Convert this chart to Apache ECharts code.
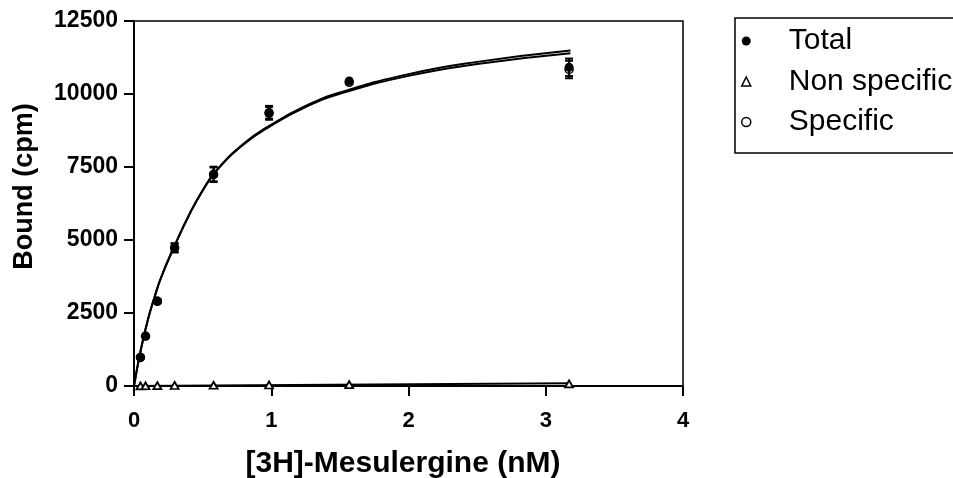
<!DOCTYPE html>
<html>
<head>
<meta charset="utf-8">
<script src="https://cdn.jsdelivr.net/npm/echarts@6/dist/echarts.min.js"></script>
<style>
html,body{margin:0;padding:0;background:#fff;}
#chart{width:953px;height:478px;}
</style>
</head>
<body>
<div id="chart"></div>
<script>
// Concentrations (nM)
var concX = [0.047, 0.084, 0.17, 0.296, 0.58, 0.984, 1.568, 3.17];
// Total binding (cpm) and SEM
var totalY = [983, 1712, 2911, 4740, 7260, 9373, 10445, 10914];
var totalErr = [0, 0, 60, 150, 250, 220, 0, 300];
// Non specific binding (cpm)
var nsY = [5, 8, 12, 18, 25, 35, 45, 75];
// Specific binding (cpm)
var specY = [978, 1704, 2899, 4722, 7235, 9338, 10400, 10839];
var specErr = [0, 0, 60, 150, 250, 220, 0, 300];
// Fitted curves
var curveX = [0, 0.05, 0.1, 0.15, 0.2, 0.3, 0.4, 0.5, 0.6, 0.8, 1.0, 1.25, 1.5, 2.0, 2.5, 3.18];
var totalCurveY = [0, 1250, 2250, 3050, 3750, 4850, 5850, 6700, 7380, 8300, 8950, 9590, 10050, 10680, 11100, 11490];
var specCurveY = [0, 1248, 2247, 3045, 3744, 4841, 5838, 6685, 7362, 8276, 8920, 9553, 10005, 10620, 11025, 11395];
var nsCurveX = [0, 3.18];
var nsCurveY = [0, 95];
// Axis ticks
var xTicks = {min: 0, max: 4, interval: 1};
var yTicks = {min: 0, max: 12500, interval: 2500};

function pairs(xs, ys) { return xs.map(function (x, i) { return [x, ys[i]]; }); }
function errData(xs, ys, es) { return xs.map(function (x, i) { return [x, ys[i] - es[i], ys[i] + es[i]]; }); }

function errRender(params, api) {
  var x = api.value(0), lo = api.value(1), hi = api.value(2);
  if (hi - lo <= 0) return null;
  var p1 = api.coord([x, lo]), p2 = api.coord([x, hi]);
  var w = 4;
  var st = {stroke: '#000', lineWidth: 2};
  return {type: 'group', children: [
    {type: 'line', shape: {x1: p1[0], y1: p1[1], x2: p2[0], y2: p2[1]}, style: st},
    {type: 'line', shape: {x1: p1[0] - w, y1: p1[1], x2: p1[0] + w, y2: p1[1]}, style: st},
    {type: 'line', shape: {x1: p2[0] - w, y1: p2[1], x2: p2[0] + w, y2: p2[1]}, style: st}
  ]};
}

var font = '"Liberation Sans", Arial, sans-serif';
var chart = echarts.init(document.getElementById('chart'), null, {renderer: 'canvas'});
chart.setOption({
  animation: false,
  backgroundColor: '#fff',
  grid: {left: 134, right: 270, top: 21, bottom: 92, show: true, borderColor: '#000', borderWidth: 1.5, containLabel: false, outerBoundsMode: 'none'},
  legend: {
    left: 735, top: 18, orient: 'vertical',
    selectedMode: false,
    borderColor: '#000', borderWidth: 1.5,
    padding: [8, 12, 16, 6],
    itemWidth: 9, itemHeight: 9, itemGap: 10.5,
    textStyle: {fontFamily: font, fontSize: 30, color: '#000', padding: [0, 0, 0, 33]},
    data: [
      {name: 'Total', icon: 'circle', itemStyle: {color: '#000', borderWidth: 0}},
      {name: 'Non specific', icon: 'triangle', itemStyle: {color: '#fff', borderColor: '#000', borderWidth: 1.5}},
      {name: 'Specific', icon: 'circle', itemStyle: {color: '#fff', borderColor: '#000', borderWidth: 1.5}}
    ]
  },
  xAxis: {
    type: 'value', min: xTicks.min, max: xTicks.max, interval: xTicks.interval,
    name: '[3H]-Mesulergine (nM)', nameLocation: 'middle', nameGap: 63,
    nameTextStyle: {fontFamily: font, fontSize: 30, fontWeight: 'bold', color: '#000', padding: [0, 11, 0, 0]},
    axisLine: {show: true, lineStyle: {color: '#000', width: 2}},
    axisTick: {show: true, length: 10, inside: false, lineStyle: {color: '#000', width: 2}},
    axisLabel: {fontFamily: font, fontSize: 22, fontWeight: 'bold', color: '#000', margin: 24, formatter: function (v) { return String(v); }},
    splitLine: {show: false}
  },
  yAxis: {
    type: 'value', min: yTicks.min, max: yTicks.max, interval: yTicks.interval,
    name: 'Bound (cpm)', nameLocation: 'middle', nameGap: 96,
    nameTextStyle: {fontFamily: font, fontSize: 27, fontWeight: 'bold', color: '#000', padding: [0, 0, 0, 34]},
    axisLine: {show: true, lineStyle: {color: '#000', width: 2}},
    axisTick: {show: true, length: 10, inside: false, lineStyle: {color: '#000', width: 2}},
    axisLabel: {fontFamily: font, fontSize: 23, fontWeight: 'bold', color: '#000', margin: 16, formatter: function (v) { return String(v); }},
    splitLine: {show: false}
  },
  series: [
    {name: 'Total fit', type: 'line', data: pairs(curveX, totalCurveY), smooth: 0.5, symbol: 'none', lineStyle: {color: '#000', width: 2}, z: 2},
    {name: 'Specific fit', type: 'line', data: pairs(curveX, specCurveY), smooth: 0.5, symbol: 'none', lineStyle: {color: '#000', width: 2}, z: 2},
    {name: 'NS fit', type: 'line', data: pairs(nsCurveX, nsCurveY), symbol: 'none', lineStyle: {color: '#000', width: 2}, z: 2},
    {name: 'Specific err', type: 'custom', renderItem: errRender, data: errData(concX, specY, specErr), z: 3},
    {name: 'Specific', type: 'scatter', data: pairs(concX, specY), symbol: 'circle', symbolSize: 8, itemStyle: {color: '#fff', borderColor: '#000', borderWidth: 1.5, opacity: 1}, z: 3},
    {name: 'Non specific', type: 'scatter', data: pairs(concX, nsY), symbol: 'triangle', symbolSize: [8, 7], itemStyle: {color: '#fff', borderColor: '#000', borderWidth: 1.8, opacity: 1}, z: 4},
    {name: 'Total err', type: 'custom', renderItem: errRender, data: errData(concX, totalY, totalErr), z: 5},
    {name: 'Total', type: 'scatter', data: pairs(concX, totalY), symbol: 'circle', symbolSize: 9, itemStyle: {color: '#000', opacity: 1}, z: 5}
  ]
});
</script>
</body>
</html>
